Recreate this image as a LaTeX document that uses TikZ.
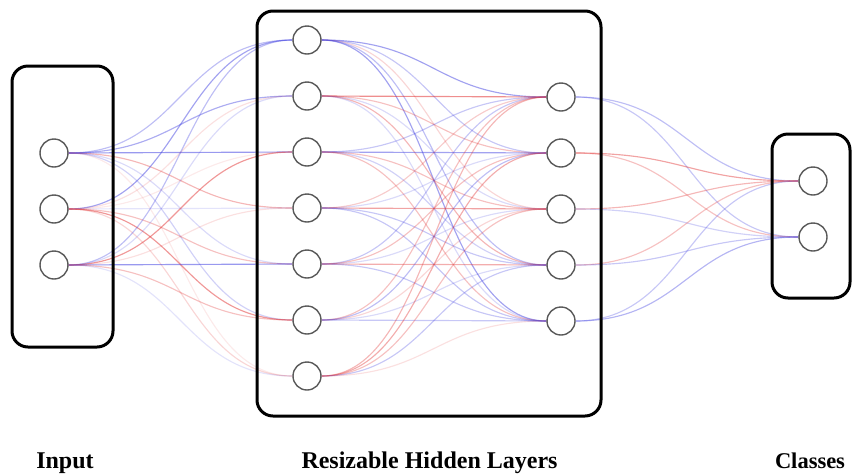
\documentclass[tikz,border=0pt]{standalone}
\usepackage{fontspec}
\setmainfont{Liberation Serif}
\usetikzlibrary{calc,backgrounds}
\definecolor{bl}{RGB}{70,70,225}
\definecolor{rd}{RGB}{225,50,50}
\tikzset{
  neuron/.style={circle, draw=black!65, line width=1.4pt, fill=white,
                 minimum size=28pt, inner sep=0pt},
  panel/.style={draw=black, line width=3pt, rounded corners=16pt},
  caption/.style={font=\fontsize{24}{28}\selectfont\bfseries, anchor=base, inner sep=0pt},
  link/.style={line width=1.15pt},
}
\begin{document}
\begin{tikzpicture}[x=1pt,y=-1pt]
\useasboundingbox (0,0) rectangle (852,475);

% neurons
\foreach \n/\y in {1/153,2/209,3/265}
  \node[neuron] (i\n) at (54,\y) {};
\foreach \n/\y in {1/40,2/96,3/152,4/208,5/264,6/320,7/376}
  \node[neuron] (h\n) at (307,\y) {};
\foreach \n/\y in {1/97,2/153,3/209,4/265,5/321}
  \node[neuron] (g\n) at (561,\y) {};
\foreach \n/\y in {1/181,2/237}
  \node[neuron] (o\n) at (813,\y) {};

% weighted links behind the neurons
\begin{pgfonlayer}{background}
\foreach \a/\b/\c/\o in {
  i1/h1/bl/.35, i1/h2/bl/.45, i1/h3/bl/.55, i1/h4/rd/.35, i1/h5/bl/.2, i1/h6/bl/.25, i1/h7/rd/.1,
  i2/h1/bl/.5, i2/h2/rd/.15, i2/h3/rd/.1, i2/h4/bl/.15, i2/h5/rd/.3, i2/h6/rd/.5, i2/h7/rd/.2,
  i3/h1/bl/.35, i3/h2/bl/.2, i3/h3/rd/.5, i3/h4/rd/.15, i3/h5/bl/.55, i3/h6/rd/.3, i3/h7/bl/.15,
  h1/g1/bl/.5, h1/g2/bl/.3, h1/g3/rd/.2, h1/g4/bl/.35, h1/g5/bl/.5,
  h2/g1/rd/.55, h2/g2/rd/.3, h2/g3/bl/.2, h2/g4/rd/.35, h2/g5/bl/.2,
  h3/g1/bl/.3, h3/g2/bl/.5, h3/g3/rd/.3, h3/g4/bl/.25, h3/g5/rd/.3,
  h4/g1/rd/.25, h4/g2/bl/.2, h4/g3/rd/.45, h4/g4/bl/.3, h4/g5/bl/.3,
  h5/g1/bl/.3, h5/g2/rd/.3, h5/g3/bl/.2, h5/g4/rd/.4, h5/g5/bl/.3,
  h6/g1/rd/.3, h6/g2/bl/.35, h6/g3/rd/.2, h6/g4/bl/.2, h6/g5/bl/.3,
  h7/g1/rd/.35, h7/g2/rd/.4, h7/g3/rd/.3, h7/g4/bl/.3, h7/g5/rd/.15,
  g1/o1/bl/.35, g1/o2/bl/.3, g2/o1/rd/.45, g2/o2/rd/.3, g3/o1/rd/.35,
  g3/o2/bl/.25, g4/o1/rd/.3, g4/o2/bl/.3, g5/o1/bl/.3, g5/o2/bl/.4}
{
  \draw[link, draw=\c, draw opacity=\o]
    let \p1=(\a.east), \p2=(\b.west) in
    (\p1) .. controls ({(\x1+\x2)/2},\y1) and ({(\x1+\x2)/2},\y2) .. (\p2);
}
\end{pgfonlayer}

% layer panels
\draw[panel] (12,66) rectangle (113,347);
\draw[panel] (257,11) rectangle (601,416);
\draw[panel] (772,134) rectangle (850,298);

% captions
\node[caption] (capIn)  at (65,468) {Input};
\node[caption] (capHid) at (429.5,468) {Resizable Hidden Layers};
\node[caption, font=\fontsize{22.5}{27}\selectfont\bfseries] (capOut) at (810,468) {Classes};
\end{tikzpicture}
\end{document}
